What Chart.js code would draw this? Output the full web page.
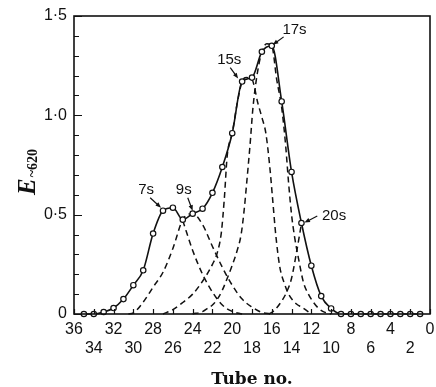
<!DOCTYPE html>
<html>
<head>
<meta charset="utf-8">
<script src="https://cdn.jsdelivr.net/npm/chart.js@4.4.1/dist/chart.umd.min.js"></script>
<style>
html,body{margin:0;padding:0;background:#fff;}
canvas{display:block;}
</style>
</head>
<body>
<canvas id="c" width="436" height="387"></canvas>
<script>
// ---- data ----
const tubes = [35,34,33,32,31,30,29,28,27,26,25,24,23,22,21,20,19,18,17,16,15,14,13,12,11,10,9,8,7,6,5,4,3,2,1];
const absorbance = [0,0,0.01,0.03,0.075,0.145,0.22,0.405,0.52,0.535,0.475,0.505,0.53,0.61,0.74,0.91,1.17,1.19,1.32,1.35,1.07,0.715,0.458,0.243,0.09,0.028,0,0,0,0,0,0,0,0,0];

// dashed component curves (tube, E)
const comp7s_tube = [25,24,23,22,21,20,19];
const comp7s_E    = [0.47,0.32,0.20,0.11,0.045,0.013,0];

const comp9s_tube = [30.5,30,29,28,27,26,25,24,23,22,21,20,19,18,17,16];
const comp9s_E    = [0,0.005,0.06,0.135,0.21,0.33,0.475,0.505,0.45,0.34,0.235,0.145,0.075,0.035,0.008,0];

const comp15s_tube = [27,26,25,24,23,22,21.5,21.1,20.8,20.5,20,19.5,19,18.6,18,17.4,17,16.6,16.2,15.9,15.6,15.2,14.7,14.3,13.5,13,12];
const comp15s_E    = [0,0.022,0.058,0.10,0.165,0.25,0.31,0.41,0.58,0.80,0.91,1.06,1.17,1.19,1.18,1.06,0.99,0.91,0.74,0.57,0.40,0.24,0.15,0.10,0.05,0.035,0];

const comp17s_tube = [24,23,22.5,22,21.5,21,20.5,20,19.5,19.1,18.8,18.5,18.2,17.9,17.5,17,16.5,16,15.5,15,14.6,14.3,14,13.7,13.3,12.8,12.3,11.8,11.3,10.8,10];
const comp17s_E    = [0,0.012,0.028,0.045,0.075,0.12,0.18,0.245,0.32,0.40,0.52,0.68,0.85,1.04,1.2,1.32,1.36,1.35,1.18,1.04,0.85,0.66,0.50,0.39,0.28,0.16,0.10,0.06,0.03,0.012,0];

const comp20s_tube = [16.3,15.8,15,14.5,14,13.5,13];
const comp20s_E    = [0,0.015,0.065,0.11,0.18,0.31,0.455];

// axis / label text
const xTitle = 'Tube no.';
const yTitleMain = 'E';
const yTitleSub = '~620';
const xMin = 0, xMax = 36, xStep = 2;
const yMin = 0, yMax = 1.5, yStep = 0.1;

// peak labels with arrows (anchored in data units)
const peakNames   = ['7s','9s','15s','17s','20s'];
const peakTextTube = [28.7,24.9,20.3,13.7,9.7];
const peakTextE    = [0.625,0.625,1.28,1.43,0.493];
const arrowFromTube = [28.3,24.5,20.2,14.8,11.4];
const arrowFromE    = [0.585,0.585,1.24,1.395,0.493];
const arrowToTube   = [27.2,24.0,19.4,15.9,12.7];
const arrowToE      = [0.535,0.52,1.185,1.355,0.46];

// ---- build chart ----
const pts = (xs, ys) => xs.map((v,i)=>({x:v, y:ys[i]}));
const ink = '#111';

const dashed = (xs, ys) => ({
  data: pts(xs, ys),
  borderColor: ink,
  borderWidth: 1.5,
  borderDash: [6,4],
  pointRadius: 0,
  cubicInterpolationMode: 'monotone',
  fill: false,
  order: 2,
  clip: 4
});

const isMajorY = v => Math.abs(v*2 - Math.round(v*2)) < 1e-6;

const framePlugin = {
  id: 'frame',
  afterDraw(chart){
    const {ctx, chartArea:a, scales:{x, y}} = chart;
    ctx.save();
    ctx.strokeStyle = ink;
    ctx.lineWidth = 1.6;
    ctx.strokeRect(a.left, a.top, a.right - a.left, a.bottom - a.top);
    ctx.lineWidth = 1.2;
    ctx.beginPath();
    y.ticks.forEach(t => {
      const py = Math.round(y.getPixelForValue(t.value)) + 0.5;
      ctx.moveTo(a.left, py);
      ctx.lineTo(a.left + (isMajorY(t.value) ? 8 : 5), py);
    });
    x.ticks.forEach(t => {
      const px = Math.round(x.getPixelForValue(t.value)) + 0.5;
      ctx.moveTo(px, a.bottom);
      ctx.lineTo(px, a.bottom - 5);
    });
    ctx.stroke();
    ctx.restore();
  }
};

const yTitlePlugin = {
  id: 'ytitle',
  afterDraw(chart){
    const {ctx, chartArea:a} = chart;
    const cy = (a.top + a.bottom) / 2;
    ctx.save();
    ctx.translate(35, cy + 30);
    ctx.rotate(-Math.PI/2);
    ctx.fillStyle = ink;
    ctx.textAlign = 'left';
    ctx.textBaseline = 'alphabetic';
    ctx.font = 'italic bold 25px "Liberation Serif"';
    ctx.fillText(yTitleMain, 0, 0);
    const w = ctx.measureText(yTitleMain).width;
    ctx.font = 'bold 14px "Liberation Serif"';
    ctx.fillText(yTitleSub, w + 1, 2);
    ctx.restore();
  }
};

const annotPlugin = {
  id: 'annot',
  afterDatasetsDraw(chart){
    const {ctx, scales:{x, y}} = chart;
    ctx.save();
    ctx.fillStyle = ink;
    ctx.strokeStyle = ink;
    ctx.font = '15px "Liberation Sans"';
    ctx.textAlign = 'center';
    ctx.textBaseline = 'middle';
    peakNames.forEach((name, i) => {
      ctx.fillText(name, x.getPixelForValue(peakTextTube[i]), y.getPixelForValue(peakTextE[i]));
      const x0 = x.getPixelForValue(arrowFromTube[i]), y0 = y.getPixelForValue(arrowFromE[i]);
      const x1 = x.getPixelForValue(arrowToTube[i]),   y1 = y.getPixelForValue(arrowToE[i]);
      const ang = Math.atan2(y1 - y0, x1 - x0);
      const head = 6;
      ctx.lineWidth = 1.2;
      ctx.beginPath();
      ctx.moveTo(x0, y0);
      ctx.lineTo(x1 - head*0.8*Math.cos(ang), y1 - head*0.8*Math.sin(ang));
      ctx.stroke();
      ctx.beginPath();
      ctx.moveTo(x1, y1);
      ctx.lineTo(x1 - head*Math.cos(ang - 0.38), y1 - head*Math.sin(ang - 0.38));
      ctx.lineTo(x1 - head*Math.cos(ang + 0.38), y1 - head*Math.sin(ang + 0.38));
      ctx.closePath();
      ctx.fill();
    });
    ctx.restore();
  }
};

new Chart(document.getElementById('c'), {
  type: 'line',
  data: {
    datasets: [
      {
        data: pts(tubes, absorbance),
        borderColor: ink,
        borderWidth: 1.6,
        pointRadius: 2.7,
        pointBorderWidth: 1.2,
        pointBackgroundColor: '#fff',
        pointBorderColor: ink,
        cubicInterpolationMode: 'monotone',
        fill: false,
        order: 0,
        clip: 8
      },
      dashed(comp7s_tube, comp7s_E),
      dashed(comp9s_tube, comp9s_E),
      dashed(comp15s_tube, comp15s_E),
      dashed(comp17s_tube, comp17s_E),
      dashed(comp20s_tube, comp20s_E)
    ]
  },
  options: {
    responsive: false,
    animation: false,
    devicePixelRatio: 1,
    layout: { padding: { top: 16, right: 6, left: 0, bottom: 0 } },
    plugins: { legend: { display: false }, tooltip: { enabled: false } },
    scales: {
      x: {
        type: 'linear',
        reverse: true,
        min: xMin, max: xMax,
        grid: { display: false, drawTicks: false },
        border: { display: false },
        ticks: {
          stepSize: xStep,
          autoSkip: false,
          maxRotation: 0,
          minRotation: 0,
          maxTicksLimit: 40,
          padding: 6,
          color: ink,
          font: { family: 'Liberation Sans', size: 16 },
          callback: v => (v % 4 === 0) ? [String(v), ''] : ['', String(v)]
        },
        title: {
          display: true,
          text: xTitle,
          color: ink,
          font: { family: 'DejaVu Serif', size: 17, weight: 'bold' },
          padding: { top: 0, bottom: -3 }
        },
        afterFit(s){ s.height = 73; s.paddingRight = 0; s.paddingLeft = 0; }
      },
      y: {
        min: yMin, max: yMax,
        grid: { display: false, drawTicks: false },
        border: { display: false },
        ticks: {
          stepSize: yStep,
          autoSkip: false,
          maxTicksLimit: 40,
          padding: 7,
          color: ink,
          font: { family: 'Liberation Sans', size: 16 },
          callback: v => {
            if (!isMajorY(v)) return '';
            if (Math.abs(v) < 1e-6) return '0';
            return v.toFixed(1).replace('.', '\u00B7');
          }
        },
        afterFit(s){ s.width = 74; s.paddingTop = 0; s.paddingBottom = 0; }
      }
    }
  },
  plugins: [framePlugin, yTitlePlugin, annotPlugin]
});
</script>
</body>
</html>
